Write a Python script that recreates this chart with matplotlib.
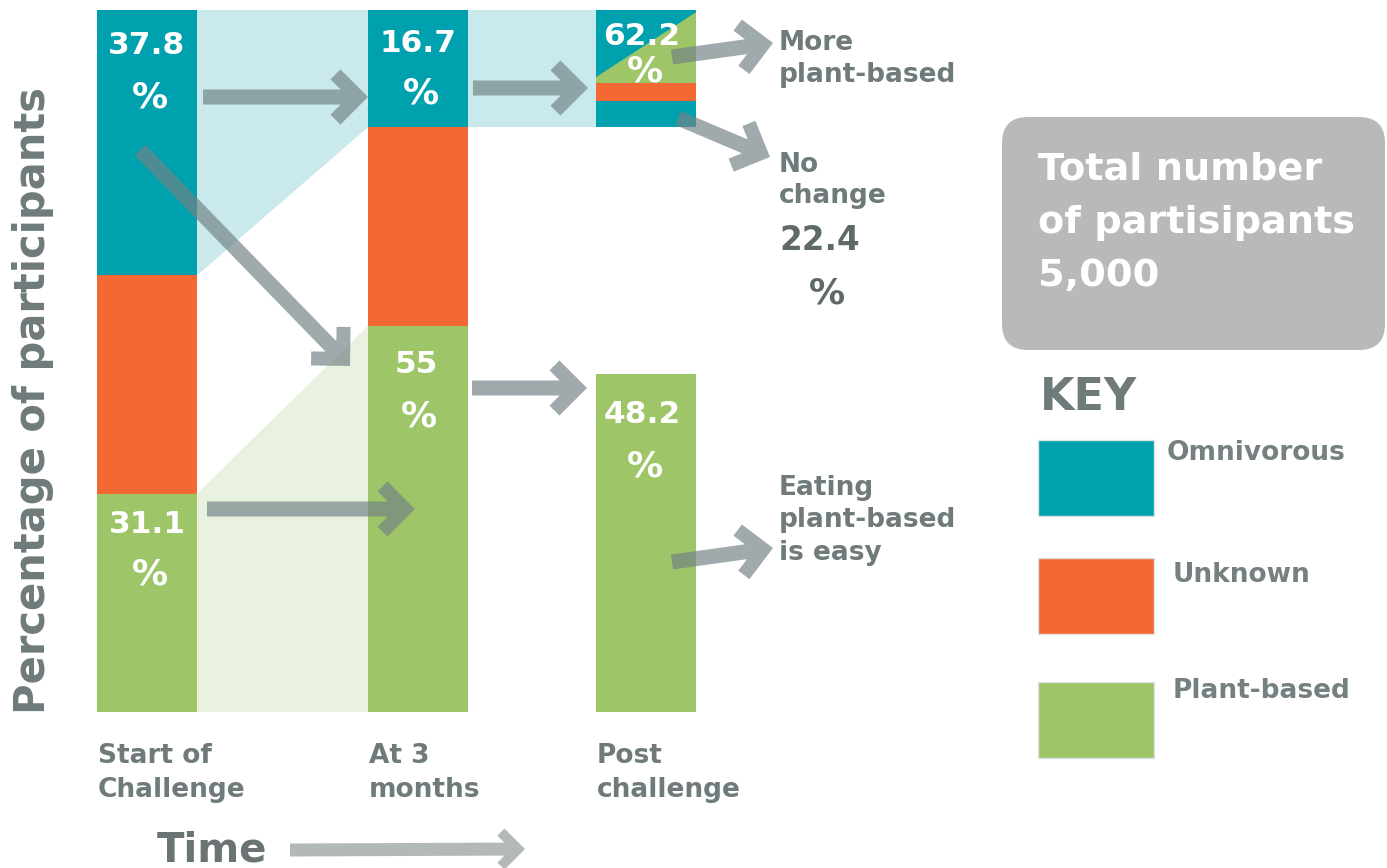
import matplotlib
matplotlib.use("Agg")
import matplotlib.pyplot as plt
from matplotlib.patches import Polygon, Rectangle, FancyBboxPatch
import numpy as np

# ---------------- data ----------------
categories = ["Start of\nChallenge", "At 3\nmonths", "Post\nchallenge"]
series_names = ["Omnivorous", "Unknown", "Plant-based"]
omnivorous = [37.8, 16.7]            # start, 3 months (%)
plant_based = [31.1, 55.0, 48.2]     # start, 3 months, post (%)
unknown = [round(100 - o - p, 1) for o, p in zip(omnivorous, plant_based[:2])]
post_more_plant = 62.2               # share of 3-month omnivores (%)
post_no_change = 22.4                # share of 3-month omnivores (%)
post_other = round(100 - post_more_plant - post_no_change, 1)
total_participants = "5,000"

# ---------------- style ----------------
TEAL = "#00a1ae"
ORANGE = "#f46834"
GREEN = "#9ec567"
LIGHT_TEAL = "#c9e9ec"
LIGHT_GREEN = "#e9f1df"
TXT = "#6f7a7a"
ARROW = "#738286"
plt.rcParams["font.family"] = ["DejaVu Sans"]
plt.rcParams["font.weight"] = "bold"

W, H = 1387, 868
fig = plt.figure(figsize=(W / 100, H / 100), dpi=100)
fig.patch.set_facecolor("white")


def fy(py):
    return 1 - py / H


# data axes: 0% at pixel row 712, 100% at pixel row 10
ax = fig.add_axes([0, fy(712), 1, fy(10) - fy(712)])
ax.set_xlim(0, W)
ax.set_ylim(0, 100)
ax.axis("off")

bar_x = [147, 418, 646]
bw = 100
left = [x - bw / 2 for x in bar_x]
right = [x + bw / 2 for x in bar_x]

# flow shading
ax.fill([right[0], left[1], left[1], right[0]],
        [100, 100, 100 - omnivorous[1], 100 - omnivorous[0]],
        color=LIGHT_TEAL, lw=0, zorder=1)
ax.fill([right[1], left[2], left[2], right[1]],
        [100, 100, 100 - omnivorous[1], 100 - omnivorous[1]],
        color=LIGHT_TEAL, lw=0, zorder=1)
ax.fill([right[0], left[1], left[1], right[0]],
        [plant_based[0], plant_based[1], 0, 0],
        color=LIGHT_GREEN, lw=0, zorder=1)

# stacked bars: start and 3 months
ax.bar(bar_x[:2], plant_based[:2], width=bw, color=GREEN, zorder=2)
ax.bar(bar_x[:2], unknown, width=bw, bottom=plant_based[:2], color=ORANGE, zorder=2)
ax.bar(bar_x[:2], omnivorous, width=bw,
       bottom=[p + u for p, u in zip(plant_based[:2], unknown)], color=TEAL, zorder=2)

# post challenge
ax.bar(bar_x[2], plant_based[2], width=bw, color=GREEN, zorder=2)
block = omnivorous[1]
base = 100 - block
seg_no = block * post_no_change / 100
seg_other = block * post_other / 100
seg_more = block * post_more_plant / 100
ax.bar(bar_x[2], seg_no, width=bw, bottom=base, color=TEAL, zorder=2)
ax.bar(bar_x[2], seg_other, width=bw, bottom=base + seg_no, color=ORANGE, zorder=2)
ax.bar(bar_x[2], seg_more, width=bw, bottom=base + seg_no + seg_other, color=TEAL, zorder=2)
yb = base + seg_no + seg_other
ax.fill([left[2], right[2], right[2], left[2]],
        [yb, yb, 100 - 0.03 * seg_more, yb + 0.08 * seg_more],
        color=GREEN, lw=0, zorder=3)


def bar_label(x, top, value, dn=-44, dp=-97, dx=0, size=22.5):
    ax.annotate(f"{value:g}", xy=(x, top), xytext=(dx, dn), textcoords="offset pixels",
                ha="center", va="baseline", color="white", fontsize=size,
                fontweight="bold", zorder=5)
    ax.annotate("%", xy=(x, top), xytext=(dx + 3, dp), textcoords="offset pixels",
                ha="center", va="baseline", color="white", fontsize=size + 3.5,
                fontweight="bold", zorder=5)


bar_label(bar_x[0], 100, omnivorous[0])
bar_label(bar_x[1], 100, omnivorous[1], dn=-42, dp=-93)
bar_label(bar_x[2], 100, post_more_plant, dn=-35, dp=-72, dx=-4)
bar_label(bar_x[0], plant_based[0], plant_based[0], dn=-39, dp=-91)
bar_label(bar_x[1], plant_based[1], plant_based[1], dn=-47, dp=-101, dx=-2)
bar_label(bar_x[2], plant_based[2], plant_based[2], dn=-49, dp=-103, dx=-4)

# category labels
for lx, cat in zip(left, categories):
    for i, line in enumerate(cat.split("\n")):
        ax.annotate(line, xy=(lx, 0), xytext=(1, -51 - 34 * i), textcoords="offset pixels",
                    ha="left", va="baseline", color=TXT, fontsize=19,
                    fontweight="bold", annotation_clip=False)

# ---------------- overlay (pixel coordinates) ----------------
bg = fig.add_axes([0, 0, 1, 1])
bg.set_xlim(0, W)
bg.set_ylim(H, 0)
bg.axis("off")
bg.patch.set_alpha(0)


def chevron_arrow(start, tip, sh=7.5, L=39, t=14, color=ARROW, alpha=0.68):
    S = np.array(start, float)
    T = np.array(tip, float)
    v = T - S
    ln = np.hypot(*v)
    u = v / ln
    n = np.array([-u[1], u[0]])
    c = s = np.sqrt(0.5)
    bx = -(t + c * sh) / s
    A = np.array([-L * c, L * s])
    Ai = A + t * np.array([-s, -c])
    Ab = np.array([-L * c, -L * s])
    Abi = Ab + t * np.array([-s, c])
    local = [(0, 0), tuple(A), tuple(Ai), (bx, sh), (-ln, sh), (-ln, -sh),
             (bx, -sh), tuple(Abi), tuple(Ab)]
    pts = [T + a * u + b * n for a, b in local]
    bg.add_patch(Polygon(pts, closed=True, facecolor=color, edgecolor="none",
                         alpha=alpha, zorder=6))


arrows = [((203, 97), (368, 97)), ((473, 88), (588, 88)), ((140, 150), (350, 366)),
          ((207, 509), (415, 509)), ((472, 388), (587, 388)), ((672, 57), (773, 43)),
          ((678, 118), (770, 157)), ((672, 562), (773, 548))]
for s0, t0 in arrows:
    chevron_arrow(s0, t0)

# time arrow
bg.text(157, 861, "Time", fontsize=29, fontweight="bold", color="#6b7474",
        ha="left", va="baseline")
chevron_arrow((290, 850), (525, 849), sh=6.5, L=29, t=10, color="#b3b8b8", alpha=1)

# y label
bg.text(45, 401, "Percentage of participants", rotation=90, rotation_mode="anchor",
        ha="center", va="baseline", fontsize=30, fontweight="bold", color=TXT)

# side annotations
side = dict(fontsize=19, fontweight="bold", color=TXT, ha="left", va="baseline")
bg.text(779, 50, "More", **side)
bg.text(779, 82, "plant-based", **side)
bg.text(779, 172, "No", **side)
bg.text(779, 203, "change", **side)
bg.text(779, 250, f"{post_no_change:g}", fontsize=23.5, fontweight="bold",
        color="#5e6969", ha="left", va="baseline")
bg.text(827, 303, "%", fontsize=26, fontweight="bold", color="#5e6969",
        ha="center", va="baseline")
bg.text(779, 495, "Eating", **side)
bg.text(779, 527, "plant-based", **side)
bg.text(779, 560, "is easy", **side)

# total box
bg.add_patch(FancyBboxPatch((1002, 117), 383, 233,
                            boxstyle="round,pad=0,rounding_size=26",
                            facecolor="#b8b9b9", edgecolor="none", zorder=2))
box_txt = dict(fontsize=27.5, fontweight="bold", color="white", ha="left",
               va="baseline", zorder=3)
bg.text(1038, 180, "Total number", **box_txt)
bg.text(1038, 233, "of partisipants", **box_txt)
bg.text(1038, 286, total_participants, **box_txt)

# key
bg.text(1040, 410, "KEY", fontsize=32, fontweight="bold", color=TXT,
        ha="left", va="baseline")
key_colors = [TEAL, ORANGE, GREEN]
key_tops = [440, 558, 682]
key_label_pos = [(1167, 460), (1173, 582), (1173, 698)]
for col, top, (lx, ly), name in zip(key_colors, key_tops, key_label_pos, series_names):
    bg.add_patch(Rectangle((1038, top), 116, 76, facecolor=col,
                           edgecolor="#dfe3e3", lw=1, zorder=2))
    bg.text(lx, ly, name, fontsize=19, fontweight="bold", color="#758080",
            ha="left", va="baseline")

fig.savefig("out.png", dpi=100, facecolor="white")
